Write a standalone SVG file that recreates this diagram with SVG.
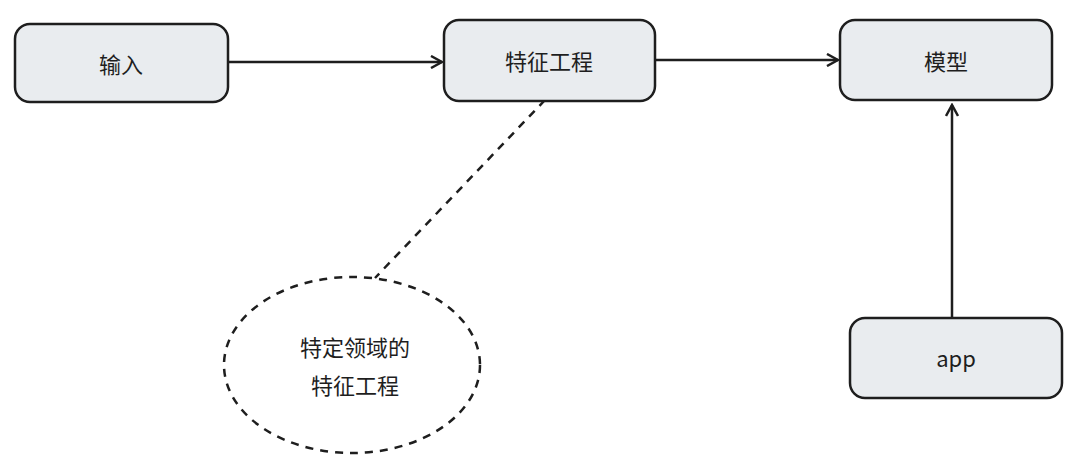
<svg xmlns="http://www.w3.org/2000/svg" width="1075" height="465" viewBox="0 0 1075 465">
<style>
.n{fill:#e9ecef;stroke:#1e1e1e;stroke-width:2.5}
.t{font-family:"Noto Sans CJK SC","Liberation Sans",sans-serif;font-size:22px;fill:#1e1e1e;text-anchor:middle;dominant-baseline:central}
.c{fill:none;stroke:#1e1e1e;stroke-width:2.5}
</style>
<defs><marker id="a" markerWidth="14" markerHeight="14" refX="12" refY="7" orient="auto" markerUnits="userSpaceOnUse"><path d="M1,1 L12,7 L1,13" fill="none" stroke="#1e1e1e" stroke-width="2.5"/></marker></defs>
<rect width="1075" height="465" fill="#fff"/>
<g id="connectors">
<path class="c" d="M228,62 L442,62" marker-end="url(#a)"/>
<path class="c" d="M655,60 L838,60" marker-end="url(#a)"/>
<path class="c" d="M952,318 L952,105" marker-end="url(#a)"/>
<path class="c" d="M545,100 L375,278" stroke-dasharray="8 7"/>
</g>
<g id="input"><rect class="n" x="15" y="24" width="213" height="78" rx="15"/><text class="t" x="121" y="63">输入</text></g>
<g id="fe"><rect class="n" x="444" y="20" width="211" height="81" rx="15"/><text class="t" x="549" y="60">特征工程</text></g>
<g id="model"><rect class="n" x="840" y="20" width="212" height="80" rx="15"/><text class="t" x="946" y="60">模型</text></g>
<g id="app"><rect class="n" x="850" y="318" width="212" height="80" rx="15"/><text class="t" x="956" y="357">app</text></g>
<g id="note"><ellipse cx="352" cy="365" rx="128" ry="88" fill="none" stroke="#1e1e1e" stroke-width="2.5" stroke-dasharray="8 7"/>
<text class="t" x="355" y="346">特定领域的</text><text class="t" x="355" y="384">特征工程</text></g>
</svg>
